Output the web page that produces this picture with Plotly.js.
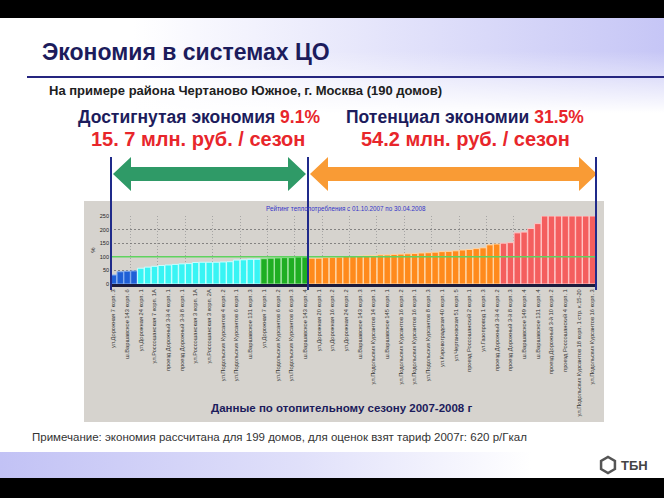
<!DOCTYPE html>
<html><head><meta charset="utf-8">
<script src="https://cdn.plot.ly/plotly-3.0.1.min.js"></script>
<style>
html,body{margin:0;padding:0;width:664px;height:498px;overflow:hidden;background:#fff;}
.bg{position:absolute;left:0;width:664px;}
#bgTop{top:0;height:18px;background:#000;}
#bgHead{top:18px;height:95px;background:linear-gradient(to bottom, rgba(255,255,255,0) 35%, #fff 100%), linear-gradient(to right,#ffffff 20%,#c6c6f6 100%);}
#bgFoot{top:452px;height:26px;background:linear-gradient(to right,#c2c2f5 0%,#e0e0fa 45%,#ffffff 80%);}
#bgBot{top:478px;height:20px;background:#000;}
#chart{position:absolute;left:0;top:0;width:664px;height:498px;}
</style></head><body>
<div class="bg" id="bgTop"></div>
<div class="bg" id="bgHead"></div>
<div class="bg" id="bgFoot"></div>
<div class="bg" id="bgBot"></div>
<div id="chart"></div>
<script>
// ---- data (values in % of norm) ----
const blueVals   = [33, 45, 47, 48];
const cyanVals   = [58, 62, 65, 68, 70, 72, 74, 75, 79, 80, 80, 80, 81, 82, 88, 89, 91, 91];
const greenVals  = [93, 95, 96, 97, 97, 100, 100];
const orangeVals = [95, 95, 97, 98, 99, 101, 101, 103, 104, 105, 107, 107, 109, 110, 111, 112, 114, 115, 117, 119, 120, 122, 125, 127, 130, 133, 144, 147];
const redVals    = [150, 152, 188, 191, 204, 222, 250, 250, 250, 250, 250, 250, 250, 250];
const normLevel  = 100;
const yTicks     = [0, 50, 100, 150, 200, 250];
const tickLabels = [
 "ул.Дорожная 7 корп. 3",
 "ш.Варшавское 143 корп. 6",
 "ул.Дорожная 24 корп. 1",
 "ул.Россошанская 7 корп. 1А",
 "проезд Дорожный 3-й 4 корп. 1",
 "проезд Дорожный 3-й 8 корп. 1",
 "ул.Россошанская 3 корп. 1А",
 "ул.Россошанская 3 корп. 2А",
 "ул.Подольских Курсантов 4 корп. 2",
 "ул.Подольских Курсантов 6 корп. 1",
 "ш.Варшавское 131 корп. 3",
 "ул.Дорожная 7 корп. 1",
 "ул.Подольских Курсантов 6 корп. 2",
 "ул.Подольских Курсантов 6 корп. 3",
 "ш.Варшавское 143 корп. 4",
 "ул.Дорожная 20 корп. 1",
 "ул.Дорожная 16 корп. 2",
 "ул.Дорожная 24 корп. 2",
 "ш.Варшавское 143 корп. 3",
 "ул.Подольских Курсантов 14 корп. 1",
 "ш.Варшавское 145 корп. 1",
 "ул.Подольских Курсантов 16 корп. 2",
 "ул.Подольских Курсантов 16 корп. 1",
 "ул.Подольских Курсантов 8 корп. 3",
 "ул.Кировоградская 40 корп. 1",
 "ул.Чертановская 51 корп. 5",
 "проезд Россошанский 2 корп. 1",
 "ул.Газопровод 1 корп. 3",
 "проезд Дорожный 3-й 4 корп. 2",
 "проезд Дорожный 3-й 8 корп. 3",
 "ш.Варшавское 149 корп. 4",
 "ш.Варшавское 131 корп. 4",
 "проезд Дорожный 3-й 10 корп. 2",
 "проезд Россошанский 4 корп. 1",
 "ул.Подольских Курсантов 18 корп. 1 стр. к.15-20",
 "ул.Подольских Курсантов 16 корп. 3"
];

// ---- styling ----
const groups = [
  {vals: blueVals,   color: '#1f5fd6', edge: '#86aef0'},
  {vals: cyanVals,   color: '#38f4f4', edge: '#c8ffff'},
  {vals: greenVals,  color: '#1fae22', edge: '#9fe59f'},
  {vals: orangeVals, color: '#ff8a1c', edge: '#ffd6a6'},
  {vals: redVals,    color: '#f45e5e', edge: '#ffc6c6'}
];
const FONT = 'Liberation Sans, Arial, sans-serif';
const L = 110, R = 68, T = 216, B = 214, W = 664, H = 498;
const PW = W - L - R, PH = H - T - B;
const px = x => (x - L) / PW;
const py = y => (H - B - y) / PH;

let traces = [];
let offset = 0;
groups.forEach(g => {
  traces.push({
    type: 'bar',
    x: g.vals.map((v, i) => offset + i),
    y: g.vals,
    marker: {color: g.color, line: {color: g.edge, width: 1}},
    hoverinfo: 'skip',
    cliponaxis: true
  });
  offset += g.vals.length;
});
const nBars = offset;
const tickVals = tickLabels.map((t, i) => i * 2);

function dblArrow(x1, x2, yc, color) {
  const Lh = 18, Hh = 17, hh = 7;
  const pts = [
    [x1, yc], [x1 + Lh, yc - Hh], [x1 + Lh, yc - hh], [x2 - Lh, yc - hh], [x2 - Lh, yc - Hh],
    [x2, yc], [x2 - Lh, yc + Hh], [x2 - Lh, yc + hh], [x1 + Lh, yc + hh], [x1 + Lh, yc + Hh]
  ];
  const path = 'M' + pts.map(p => px(p[0]).toFixed(5) + ',' + py(p[1]).toFixed(5)).join(' L') + ' Z';
  return {type: 'path', xref: 'paper', yref: 'paper', path: path, fillcolor: color, line: {width: 0}, layer: 'above'};
}
function vline(x, y0, y1) {
  return {type: 'line', xref: 'paper', yref: 'paper', x0: px(x), x1: px(x), y0: py(y0), y1: py(y1),
          line: {color: '#1f2a8a', width: 2}, layer: 'above'};
}
function hexPath(cx, cy, r) {
  let pts = [];
  for (let k = 0; k < 6; k++) {
    const a = Math.PI / 6 + k * Math.PI / 3;
    pts.push([cx + r * Math.cos(a), cy + r * Math.sin(a)]);
  }
  return 'M' + pts.map(p => px(p[0]).toFixed(5) + ',' + py(p[1]).toFixed(5)).join(' L') + ' Z';
}

const shapes = [
  // grey chart panel
  {type: 'rect', xref: 'paper', yref: 'paper', x0: px(84), x1: px(604), y0: py(201), y1: py(422),
   fillcolor: '#d6d3ce', line: {width: 0}, layer: 'below'},
  // header rule
  {type: 'line', xref: 'paper', yref: 'paper', x0: px(27), x1: px(664), y0: py(77), y1: py(77),
   line: {color: '#25257f', width: 2}, layer: 'above'},
  // norm line
  {type: 'line', xref: 'paper', yref: 'y', x0: 0, x1: 1, y0: normLevel, y1: normLevel,
   line: {color: '#5fd35f', width: 1.5}, layer: 'above'},
  dblArrow(113, 306, 174, '#2f9a67'),
  dblArrow(310, 597, 174, '#f99b35'),
  vline(111, 157, 290),
  vline(308, 157, 290),
  vline(596, 157, 290),
  // logo
  {type: 'path', xref: 'paper', yref: 'paper', path: hexPath(608, 465, 8), fillcolor: 'rgba(0,0,0,0)',
   line: {color: '#555', width: 2.5}, layer: 'above'}
];

const ann = (x, y, text, size, color, opts) => Object.assign({
  xref: 'paper', yref: 'paper', x: px(x), y: py(y), text: text, showarrow: false,
  xanchor: 'center', yanchor: 'middle', font: {family: FONT, size: size, color: color}
}, opts || {});

const annotations = [
  ann(40, 52, '<b>Экономия в системах ЦО</b>', 23, '#1c1c5c', {xanchor: 'left'}),
  ann(47, 90, '<b>На примере района Чертаново Южное, г. Москва (190 домов)</b>', 13, '#202020', {xanchor: 'left'}),
  ann(199, 117, '<b>Достигнутая экономия <span style="color:#e8262b">9.1%</span></b>', 17.5, '#1c1c5c'),
  ann(198, 139, '<b>15. 7 млн. руб. / сезон</b>', 20, '#e8262b'),
  ann(465, 117, '<b>Потенциал экономии <span style="color:#e8262b">31.5%</span></b>', 17.5, '#1c1c5c'),
  ann(465, 139, '<b>54.2 млн. руб. / сезон</b>', 20, '#e8262b'),
  ann(346, 209, 'Рейтинг теплопотребления с 01.10.2007 по 30.04.2008', 6.3, '#3434c8'),
  ann(341, 408, '<b>Данные по отопительному сезону 2007-2008 г</b>', 11.5, '#1c1c5c'),
  ann(30, 437, 'Примечание: экономия рассчитана для 199 домов, для оценок взят тариф 2007г: 620 р/Гкал', 11.5, '#333333', {xanchor: 'left'}),
  ann(619, 465, '<b>ТБН</b>', 13, '#444444', {xanchor: 'left'})
];

const layout = {
  width: W, height: H,
  margin: {l: L, r: R, t: T, b: B, pad: 0},
  paper_bgcolor: 'rgba(0,0,0,0)',
  plot_bgcolor: 'rgba(0,0,0,0)',
  showlegend: false,
  barmode: 'group',
  bargap: 0.06,
  font: {family: FONT},
  xaxis: {
    range: [-0.5, nBars - 0.5], tickmode: 'array', tickvals: tickVals, ticktext: tickLabels,
    tickangle: -90, tickfont: {family: FONT, size: 5.7, color: '#333'}, ticks: '',
    showgrid: false, zeroline: false, showline: true, linecolor: '#1b1b3c', linewidth: 3,
    minor: {tickmode: 'linear', tick0: 2.5, dtick: 4, showgrid: true, griddash: '1px,2px',
            gridcolor: '#9a9a9a', gridwidth: 0.8, ticks: ''},
    automargin: false, fixedrange: true
  },
  yaxis: {
    range: [0, 250], tickmode: 'array', tickvals: yTicks, ticks: '',
    tickfont: {family: FONT, size: 5.5, color: '#222'},
    showgrid: true, griddash: '2px,2px', gridcolor: '#6f6f6f', gridwidth: 0.8,
    zeroline: false, showline: false, automargin: false,
    title: {text: '%', font: {family: FONT, size: 6, color: '#222'}, standoff: 3}
  },
  shapes: shapes,
  annotations: annotations
};

Plotly.newPlot('chart', traces, layout, {displayModeBar: false, staticPlot: true});
</script>
</body></html>
